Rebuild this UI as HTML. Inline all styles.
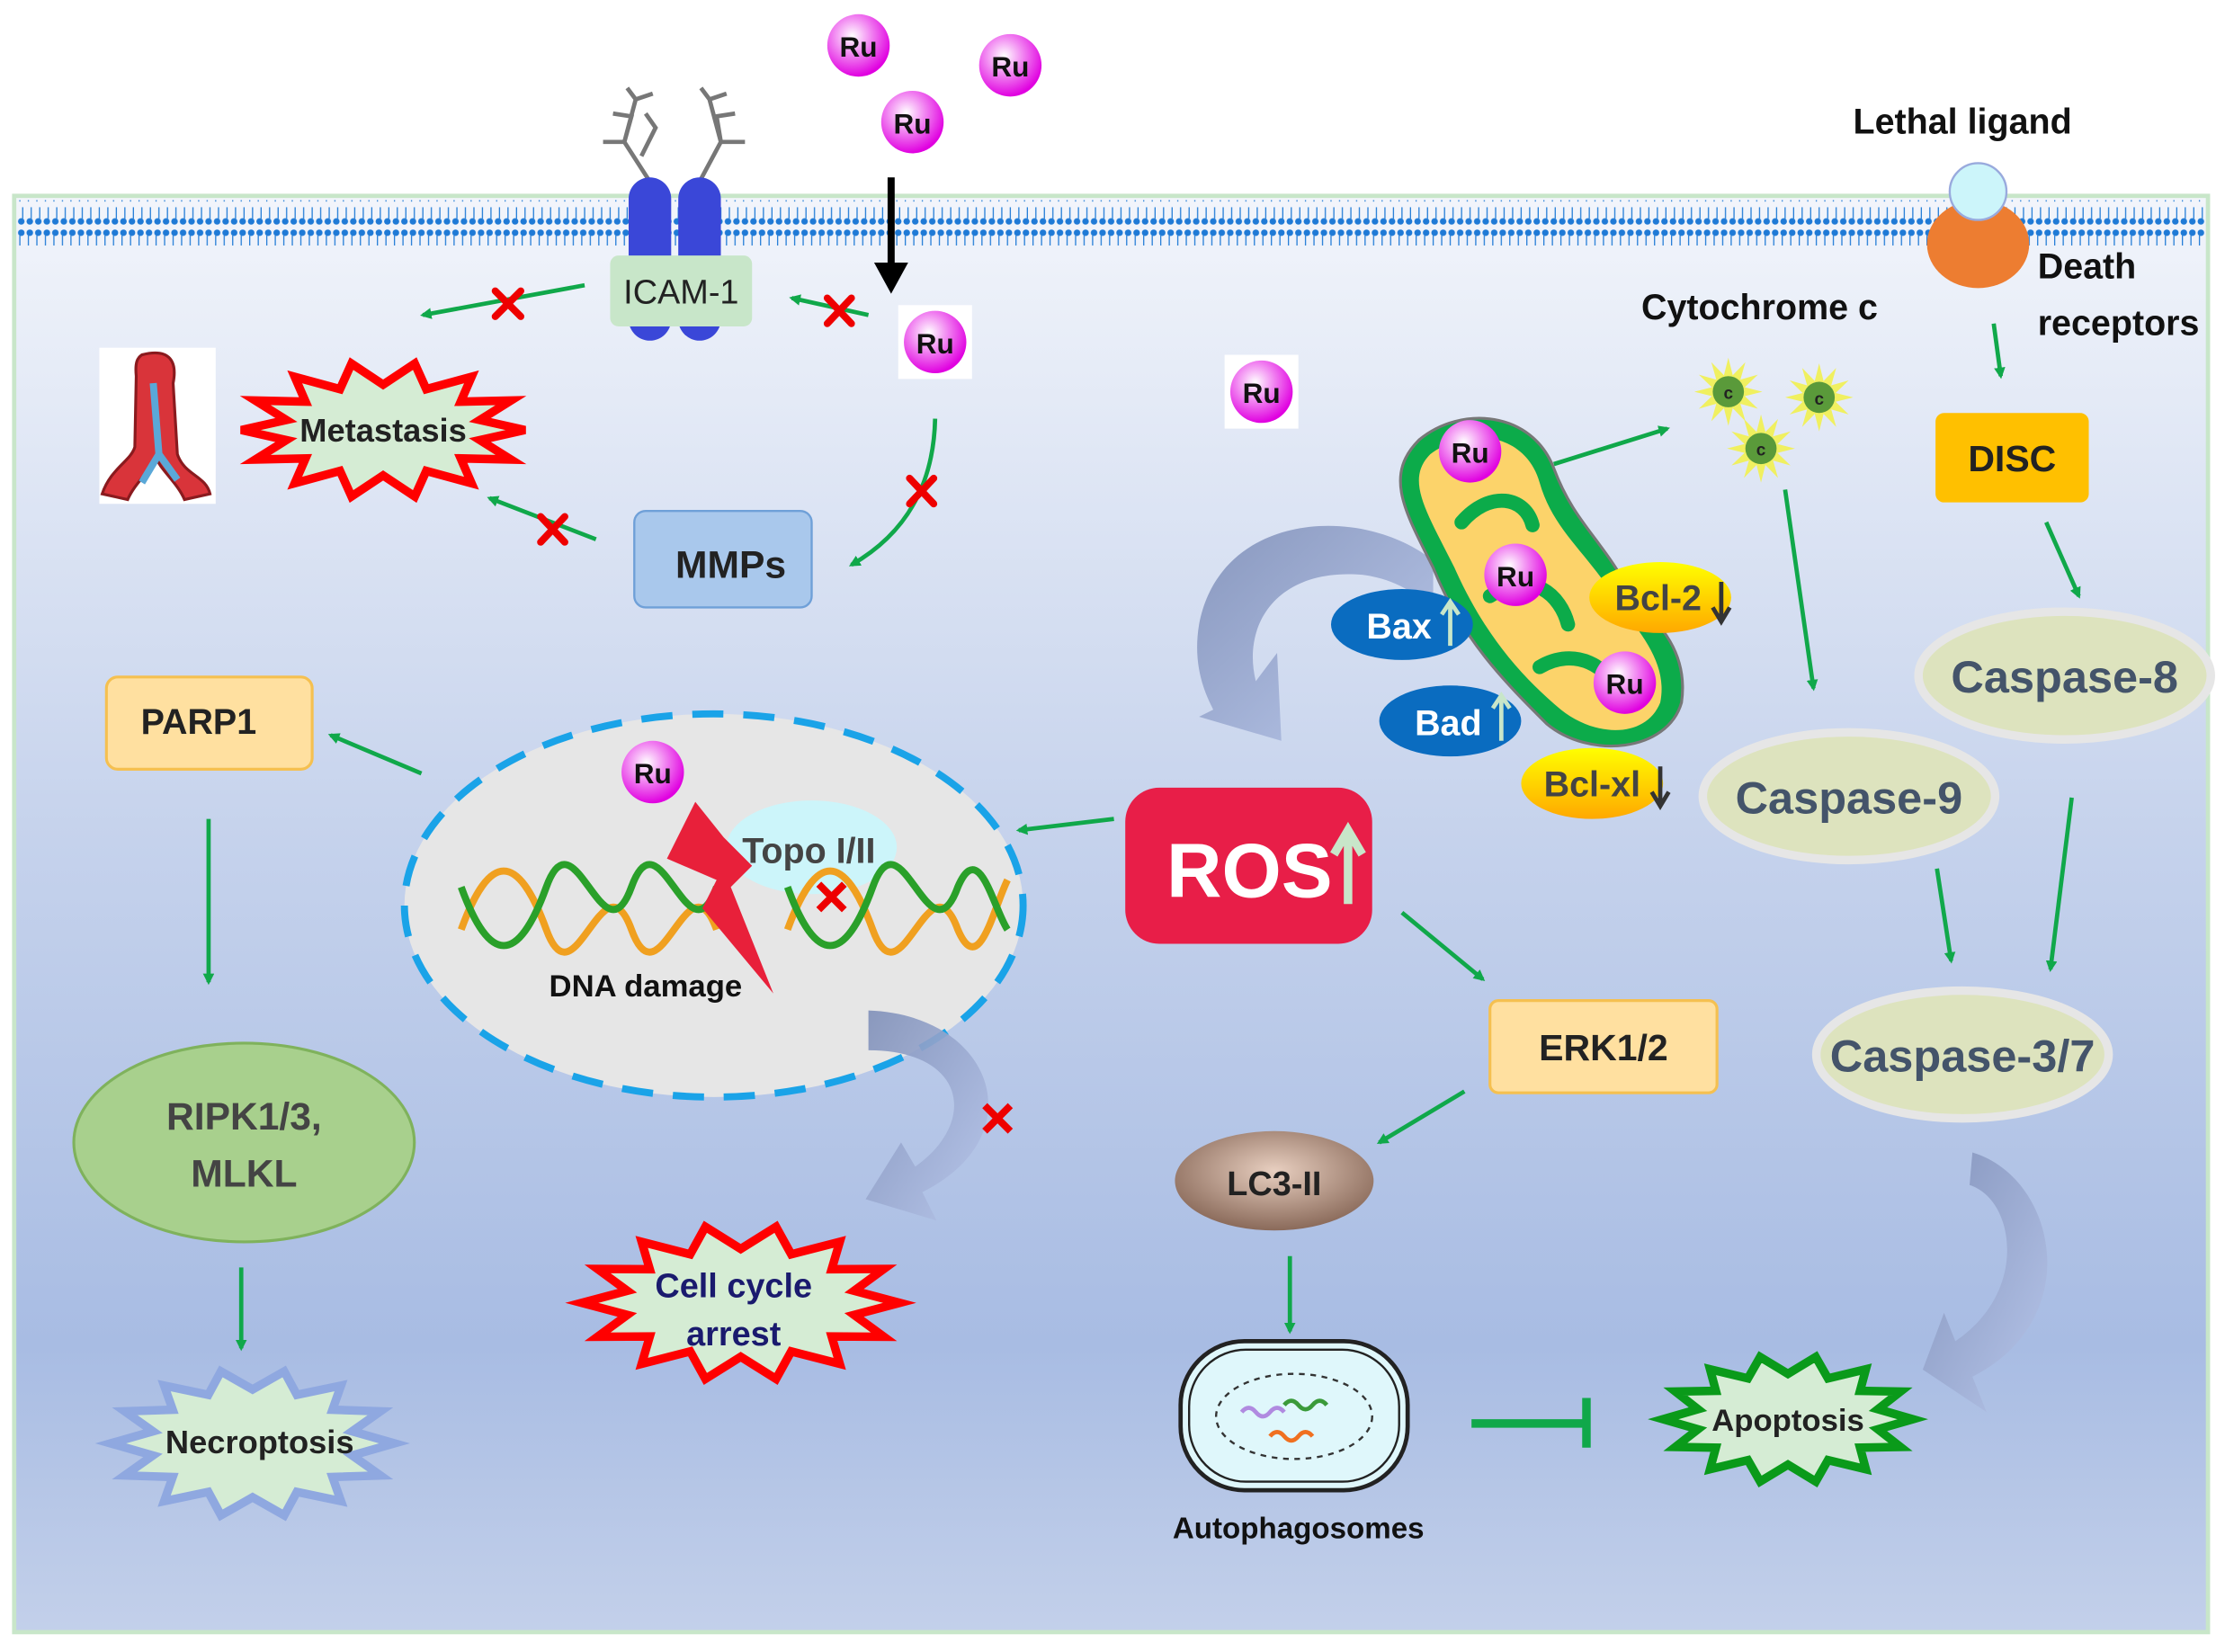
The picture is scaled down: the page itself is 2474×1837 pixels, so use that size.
<!DOCTYPE html>
<html><head><meta charset="utf-8"><style>
html,body{margin:0;padding:0;background:#fff;}
svg{display:block;font-family:"Liberation Sans",sans-serif;}
</style></head><body>
<svg id="s" width="2474" height="1837" viewBox="0 0 1568 1164" preserveAspectRatio="none" xmlns="http://www.w3.org/2000/svg">
<defs>
<linearGradient id="bg" x1="0" y1="0" x2="0" y2="1">
<stop offset="0" stop-color="#f2f5fb"/><stop offset="0.45" stop-color="#c5d2ec"/><stop offset="0.8" stop-color="#a8bce3"/><stop offset="1" stop-color="#c3d0ea"/></linearGradient>
<radialGradient id="ru" cx="0.4" cy="0.35" r="0.65"><stop offset="0" stop-color="#fff"/><stop offset="0.5" stop-color="#f07cf0"/><stop offset="1" stop-color="#e000e0"/></radialGradient>
<linearGradient id="yl" x1="0" y1="0" x2="0" y2="1"><stop offset="0" stop-color="#ffff00"/><stop offset="1" stop-color="#ffa800"/></linearGradient>
<radialGradient id="lc" cx="0.5" cy="0.4" r="0.6"><stop offset="0" stop-color="#e8cfc0"/><stop offset="1" stop-color="#8a6a5a"/></radialGradient>
<linearGradient id="ca" x1="0" y1="0" x2="1" y2="1"><stop offset="0" stop-color="#7f8fb8"/><stop offset="1" stop-color="#b8c6ea"/></linearGradient>
<pattern id="mem" width="6" height="32" patternUnits="userSpaceOnUse">
<circle cx="3" cy="4" r="2.3" fill="#1f7ad6"/><circle cx="3" cy="28" r="2.3" fill="#1f7ad6"/>
<line x1="2" y1="6" x2="2" y2="14" stroke="#1f7ad6" stroke-width="0.8"/><line x1="4" y1="18" x2="4" y2="26" stroke="#1f7ad6" stroke-width="0.8"/>
</pattern>
<marker id="ga" markerWidth="8" markerHeight="8" refX="6" refY="4" orient="auto" markerUnits="userSpaceOnUse"><path d="M0,0 L8,4 L0,8 z" fill="#10a84a"/></marker>
</defs>
<rect x="0" y="0" width="1568" height="1164" fill="#fff"/>
<rect x="10" y="138" width="1546" height="1012" fill="url(#bg)" stroke="#c8e6c9" stroke-width="3"/>
<rect x="12" y="141" width="1542" height="32" fill="url(#mem)"/>

<g stroke="#777" stroke-width="3" fill="none">
<path d="M458,128 L440,100 L425,100 M440,100 L448,70 M440,100 L445,82 L432,80 M448,70 L442,62 M448,70 L460,66 M452,110 L462,90 L455,80"/>
<path d="M493,128 L508,100 L525,100 M508,100 L500,70 M508,100 L505,82 L518,80 M500,70 L494,62 M500,70 L512,66"/>
</g>
<rect x="443" y="125" width="30" height="115" rx="15" fill="#3a47d8"/>
<rect x="478" y="125" width="30" height="115" rx="15" fill="#3a47d8"/>
<rect x="430" y="180" width="100" height="50" rx="6" fill="#c8e6c9"/>
<text x="480" y="214" font-size="24" text-anchor="middle" fill="#222">ICAM-1</text>
<line x1="628" y1="125" x2="628" y2="190" stroke="#000" stroke-width="5"/>
<path d="M616,185 L640,185 L628,207 z" fill="#000"/>

<g stroke="#10a84a" stroke-width="3" fill="none" marker-end="url(#ga)">
<line x1="412" y1="201" x2="298" y2="222"/>
<line x1="612" y1="222" x2="558" y2="210"/>
<path d="M659,295 C658,340 640,375 600,398"/>
<line x1="420" y1="380" x2="345" y2="351"/>
<line x1="297" y1="545" x2="233" y2="518"/>
<line x1="147" y1="577" x2="147" y2="692"/>
<line x1="170" y1="893" x2="170" y2="950"/>
<line x1="785" y1="577" x2="718" y2="585"/>
<line x1="988" y1="643" x2="1045" y2="690"/>
<line x1="1032" y1="769" x2="972" y2="805"/>
<line x1="909" y1="885" x2="909" y2="938"/>
<line x1="1095" y1="327" x2="1175" y2="302"/>
<line x1="1258" y1="345" x2="1278" y2="485"/>
<line x1="1405" y1="228" x2="1410" y2="265"/>
<line x1="1442" y1="368" x2="1465" y2="420"/>
<line x1="1365" y1="612" x2="1375" y2="677"/>
<line x1="1460" y1="562" x2="1445" y2="683"/>
</g>
<line x1="1037" y1="1003" x2="1118" y2="1003" stroke="#10a84a" stroke-width="6"/>
<line x1="1118" y1="985" x2="1118" y2="1020" stroke="#10a84a" stroke-width="6"/>

<g stroke="#e00" stroke-width="5" stroke-linecap="round">
<path d="M349,205 L367,223 M367,205 L349,223"/>
<path d="M583,210 L600,228 M600,210 L583,228"/>
<path d="M641,337 L658,355 M658,337 L641,355"/>
<path d="M381,364 L398,382 M398,364 L381,382"/>
</g>

<rect x="70" y="245" width="82" height="110" fill="#fff"/>
<path d="M100,250 C120,245 125,255 122,270 L125,320 C130,335 145,335 148,348 L130,352 C125,340 112,330 110,322 C108,330 95,340 90,352 L72,348 C78,330 92,325 95,315 L96,265 C95,255 97,252 100,250z" fill="#d9343a" stroke="#8a1a1e" stroke-width="2"/>
<path d="M108,270 L112,320 L100,340 M112,320 L125,338" stroke="#5aa8d8" stroke-width="5" fill="none"/>

<g id="stars"></g>

<rect x="447" y="360" width="125" height="68" rx="8" fill="#a9c8ec" stroke="#6fa0d8" stroke-width="1.5"/>
<text x="515" y="407" font-size="27" font-weight="bold" text-anchor="middle" fill="#222">MMPs</text>

<rect x="75" y="477" width="145" height="65" rx="8" fill="#ffe0a0" stroke="#f5c050" stroke-width="2"/>
<text x="140" y="517" font-size="25" font-weight="bold" text-anchor="middle" fill="#222">PARP1</text>

<ellipse cx="172" cy="805" rx="120" ry="70" fill="#a8d08d" stroke="#7fb25c" stroke-width="2"/>
<text x="172" y="796" font-size="27" font-weight="bold" text-anchor="middle" fill="#444">RIPK1/3,</text>
<text x="172" y="836" font-size="27" font-weight="bold" text-anchor="middle" fill="#444">MLKL</text>

<ellipse cx="503" cy="638" rx="218" ry="135" fill="#e6e6e6" stroke="#1aa3e8" stroke-width="5" stroke-dasharray="22,14"/>
<ellipse cx="572" cy="597" rx="60" ry="33" fill="#ccf5fa"/>
<g fill="none" stroke-width="5">
<path d="M325,655 C345,600 365,600 385,655 C405,710 425,600 445,655 C465,710 485,600 505,655" stroke="#f0a020"/>
<path d="M325,625 C345,680 365,680 385,625 C405,570 425,680 445,625 C465,570 485,680 505,625" stroke="#2aa02a"/>
<path d="M555,655 C575,600 595,600 615,655 C635,710 655,600 675,655 C690,690 700,640 710,620" stroke="#f0a020"/>
<path d="M555,625 C575,680 595,680 615,625 C635,570 655,680 675,625 C690,590 700,640 710,655" stroke="#2aa02a"/>
</g>
<path d="M490,565 L470,605 L505,620 L495,640 L545,700 L515,625 L530,610 L510,590 z" fill="#e8203a"/>
<text x="570" y="608" font-size="25" font-weight="bold" text-anchor="middle" fill="#444">Topo I/II</text>
<text x="455" y="702" font-size="22" font-weight="bold" text-anchor="middle" fill="#111">DNA damage</text>
<path d="M577,623 L595,641 M595,623 L577,641" stroke="#e00" stroke-width="5"/>

<path d="M612,712 C700,715 730,800 650,840 L660,860 L610,845 L635,805 L645,822 C690,790 680,740 612,740 z" fill="url(#ca)" opacity="0.9"/>
<path d="M1010,395 C960,355 860,360 845,440 C840,470 850,490 855,500 L845,505 L903,522 L900,460 L885,480 C875,440 900,400 960,405 C985,408 1000,420 1010,430 z" fill="url(#ca)" opacity="0.9"/>
<path d="M1390,812 C1450,830 1470,930 1390,970 L1400,995 L1355,965 L1370,925 L1378,945 C1430,910 1420,845 1388,835 z" fill="url(#ca)" opacity="0.9"/>
<path d="M694,779 L712,797 M712,779 L694,797" stroke="#e00" stroke-width="5"/>

<rect x="793" y="555" width="174" height="110" rx="24" fill="#e81e48"/>
<text x="822" y="632" font-size="54" font-weight="bold" fill="#fff">ROS</text>
<path d="M950,637 L950,590 M940,602 L950,585 L960,602" stroke="#c8e6c9" stroke-width="6" fill="none"/>

<rect x="1050" y="705" width="160" height="65" rx="6" fill="#ffe0a0" stroke="#f5c050" stroke-width="2"/>
<text x="1130" y="747" font-size="26" font-weight="bold" text-anchor="middle" fill="#222">ERK1/2</text>

<ellipse cx="898" cy="832" rx="70" ry="35" fill="url(#lc)"/>
<text x="898" y="842" font-size="24" font-weight="bold" text-anchor="middle" fill="#222">LC3-II</text>

<rect x="832" y="945" width="160" height="105" rx="45" fill="#dff7fb" stroke="#222" stroke-width="3"/>
<rect x="838" y="951" width="148" height="93" rx="40" fill="none" stroke="#222" stroke-width="1.5"/>
<ellipse cx="912" cy="998" rx="55" ry="30" fill="none" stroke="#333" stroke-width="1.5" stroke-dasharray="4,4"/>
<path d="M875,995 q5,-6 10,0 t10,0 t10,0" stroke="#b08ae0" stroke-width="3" fill="none"/>
<path d="M905,990 q5,-6 10,0 t10,0 t10,0" stroke="#3a9a3a" stroke-width="3" fill="none"/>
<path d="M895,1012 q5,-6 10,0 t10,0 t10,0" stroke="#f07020" stroke-width="3" fill="none"/>
<text x="915" y="1084" font-size="21" font-weight="bold" text-anchor="middle" fill="#111">Autophagosomes</text>

<g font-size="32" font-weight="bold" text-anchor="middle" fill="#44546a">
<ellipse cx="1455" cy="476" rx="103" ry="45" fill="#dde3be" stroke="#e6e6e6" stroke-width="6"/>
<text x="1455" y="488">Caspase-8</text>
<ellipse cx="1303" cy="561" rx="103" ry="45" fill="#dde3be" stroke="#e6e6e6" stroke-width="6"/>
<text x="1303" y="573">Caspase-9</text>
<ellipse cx="1383" cy="743" rx="103" ry="45" fill="#dde3be" stroke="#e6e6e6" stroke-width="6"/>
<text x="1383" y="755">Caspase-3/7</text>
</g>

<rect x="1364" y="291" width="108" height="63" rx="6" fill="#ffc000"/>
<text x="1418" y="332" font-size="26" font-weight="bold" text-anchor="middle" fill="#222">DISC</text>

<ellipse cx="1394" cy="172" rx="36" ry="31" fill="#ed7d31"/>
<circle cx="1394" cy="135" r="20" fill="#ccf5fa" stroke="#9ad" stroke-width="1.5"/>
<text x="1383" y="94" font-size="25" font-weight="bold" text-anchor="middle" fill="#111">Lethal ligand</text>
<text x="1436" y="196" font-size="25" font-weight="bold" fill="#111">Death</text>
<text x="1436" y="236" font-size="25" font-weight="bold" fill="#111">receptors</text>
<text x="1240" y="225" font-size="25" font-weight="bold" text-anchor="middle" fill="#111">Cytochrome c</text>

<g id="cyt"></g>

<path d="M1000,310 C1030,285 1080,290 1095,330 C1110,370 1130,380 1150,420 C1170,440 1190,460 1185,495 C1175,530 1120,535 1090,510 C1060,480 1030,450 1010,400 C990,360 975,335 1000,310 z" fill="#0cab4a" stroke="#777" stroke-width="2"/>
<path d="M1008,320 C1035,300 1075,305 1085,340 C1095,375 1120,390 1140,425 C1160,450 1175,470 1170,495 C1160,520 1125,520 1100,500 C1070,475 1045,445 1025,400 C1005,360 990,338 1008,320 z" fill="#fcd36a"/>
<path d="M1030,368 C1050,345 1075,350 1080,370 M1050,420 C1080,400 1100,420 1105,440 M1085,470 C1110,455 1135,470 1140,490" stroke="#0cab4a" stroke-width="10" fill="none" stroke-linecap="round"/>
<ellipse cx="988" cy="440" rx="50" ry="25" fill="#0a6cc0"/>
<text x="963" y="450" font-size="25" font-weight="bold" fill="#fff">Bax</text>
<path d="M1022,455 L1022,424 M1016,433 L1022,424 L1028,433" stroke="#c8e6c9" stroke-width="3" fill="none"/>
<ellipse cx="1022" cy="508" rx="50" ry="25" fill="#0a6cc0"/>
<text x="997" y="518" font-size="25" font-weight="bold" fill="#fff">Bad</text>
<path d="M1058,522 L1058,490 M1052,499 L1058,490 L1064,499" stroke="#c8e6c9" stroke-width="3" fill="none"/>
<ellipse cx="1170" cy="421" rx="50" ry="25" fill="url(#yl)"/>
<text x="1138" y="430" font-size="25" font-weight="bold" fill="#444">Bcl-2</text>
<path d="M1213,410 L1213,436 M1207,428 L1213,438 L1219,428" stroke="#333" stroke-width="3" fill="none"/>
<ellipse cx="1122" cy="552" rx="50" ry="25" fill="url(#yl)"/>
<text x="1088" y="561" font-size="25" font-weight="bold" fill="#444">Bcl-xl</text>
<path d="M1170,540 L1170,566 M1164,558 L1170,568 L1176,558" stroke="#333" stroke-width="3" fill="none"/>

<g id="rus"></g>

<text x="270" y="311" font-size="23" font-weight="bold" text-anchor="middle" fill="#222">Metastasis</text>
<text x="517" y="914" font-size="24" font-weight="bold" text-anchor="middle" fill="#1a1a6e">Cell cycle</text>
<text x="517" y="948" font-size="24" font-weight="bold" text-anchor="middle" fill="#1a1a6e">arrest</text>
<text x="183" y="1024" font-size="23" font-weight="bold" text-anchor="middle" fill="#222">Necroptosis</text>
<text x="1260" y="1008" font-size="22" font-weight="bold" text-anchor="middle" fill="#222">Apoptosis</text>
</svg>
<script>
var NS="http://www.w3.org/2000/svg";
function el(p,t,a){var e=document.createElementNS(NS,t);for(var k in a)e.setAttribute(k,a[k]);p.appendChild(e);return e;}
function star(cx,cy,rx,ry,ix,iy,n,fill,stroke,sw){var pts=[];for(var i=0;i<2*n;i++){var a=Math.PI*i/n;var o=i%2==0;pts.push((cx+(o?rx:ix)*Math.cos(a)).toFixed(1)+","+(cy+(o?ry:iy)*Math.sin(a)).toFixed(1));}
el(document.getElementById("stars"),"polygon",{points:pts.join(" "),fill:fill,stroke:stroke,"stroke-width":sw,"stroke-linejoin":"miter"});}
star(270,303,100,48,70,32,14,"#d5ecd4","#f00",6);
star(522,918,112,55,82,38,14,"#d5ecd4","#f00",6);
star(178,1017,100,52,72,38,14,"#d5ecd4","#8fa8e0",6);
star(1260,1000,88,45,65,32,14,"#d5ecd4","#0a9a1a",6);
var rp=[[605,32],[712,46],[643,86],[659,241,1],[889,276,1],[1036,318],[1068,405],[1145,481],[460,544]];
var g=document.getElementById("rus");
rp.forEach(function(p){if(p[2])el(g,"rect",{x:p[0]-26,y:p[1]-26,width:52,height:52,fill:"#fff"});el(g,"circle",{cx:p[0],cy:p[1],r:22,fill:"url(#ru)"});var t=el(g,"text",{x:p[0],y:p[1]+8,"font-size":20,"font-weight":"bold","text-anchor":"middle",fill:"#111"});t.textContent="Ru";});
var cg=document.getElementById("cyt");
[[1218,276],[1282,280],[1241,316]].forEach(function(p){star2(p[0],p[1]);});
function star2(cx,cy){var pts=[];for(var i=0;i<24;i++){var a=Math.PI*i/12;var r=i%2?12:24;pts.push((cx+r*Math.cos(a)).toFixed(1)+","+(cy+r*Math.sin(a)).toFixed(1));}
el(cg,"polygon",{points:pts.join(" "),fill:"#f0f060"});el(cg,"circle",{cx:cx,cy:cy,r:11,fill:"#5a9a3a"});var t=el(cg,"text",{x:cx,y:cy+5,"font-size":12,"font-weight":"bold","text-anchor":"middle",fill:"#222"});t.textContent="c";}
</script>
</body></html>
